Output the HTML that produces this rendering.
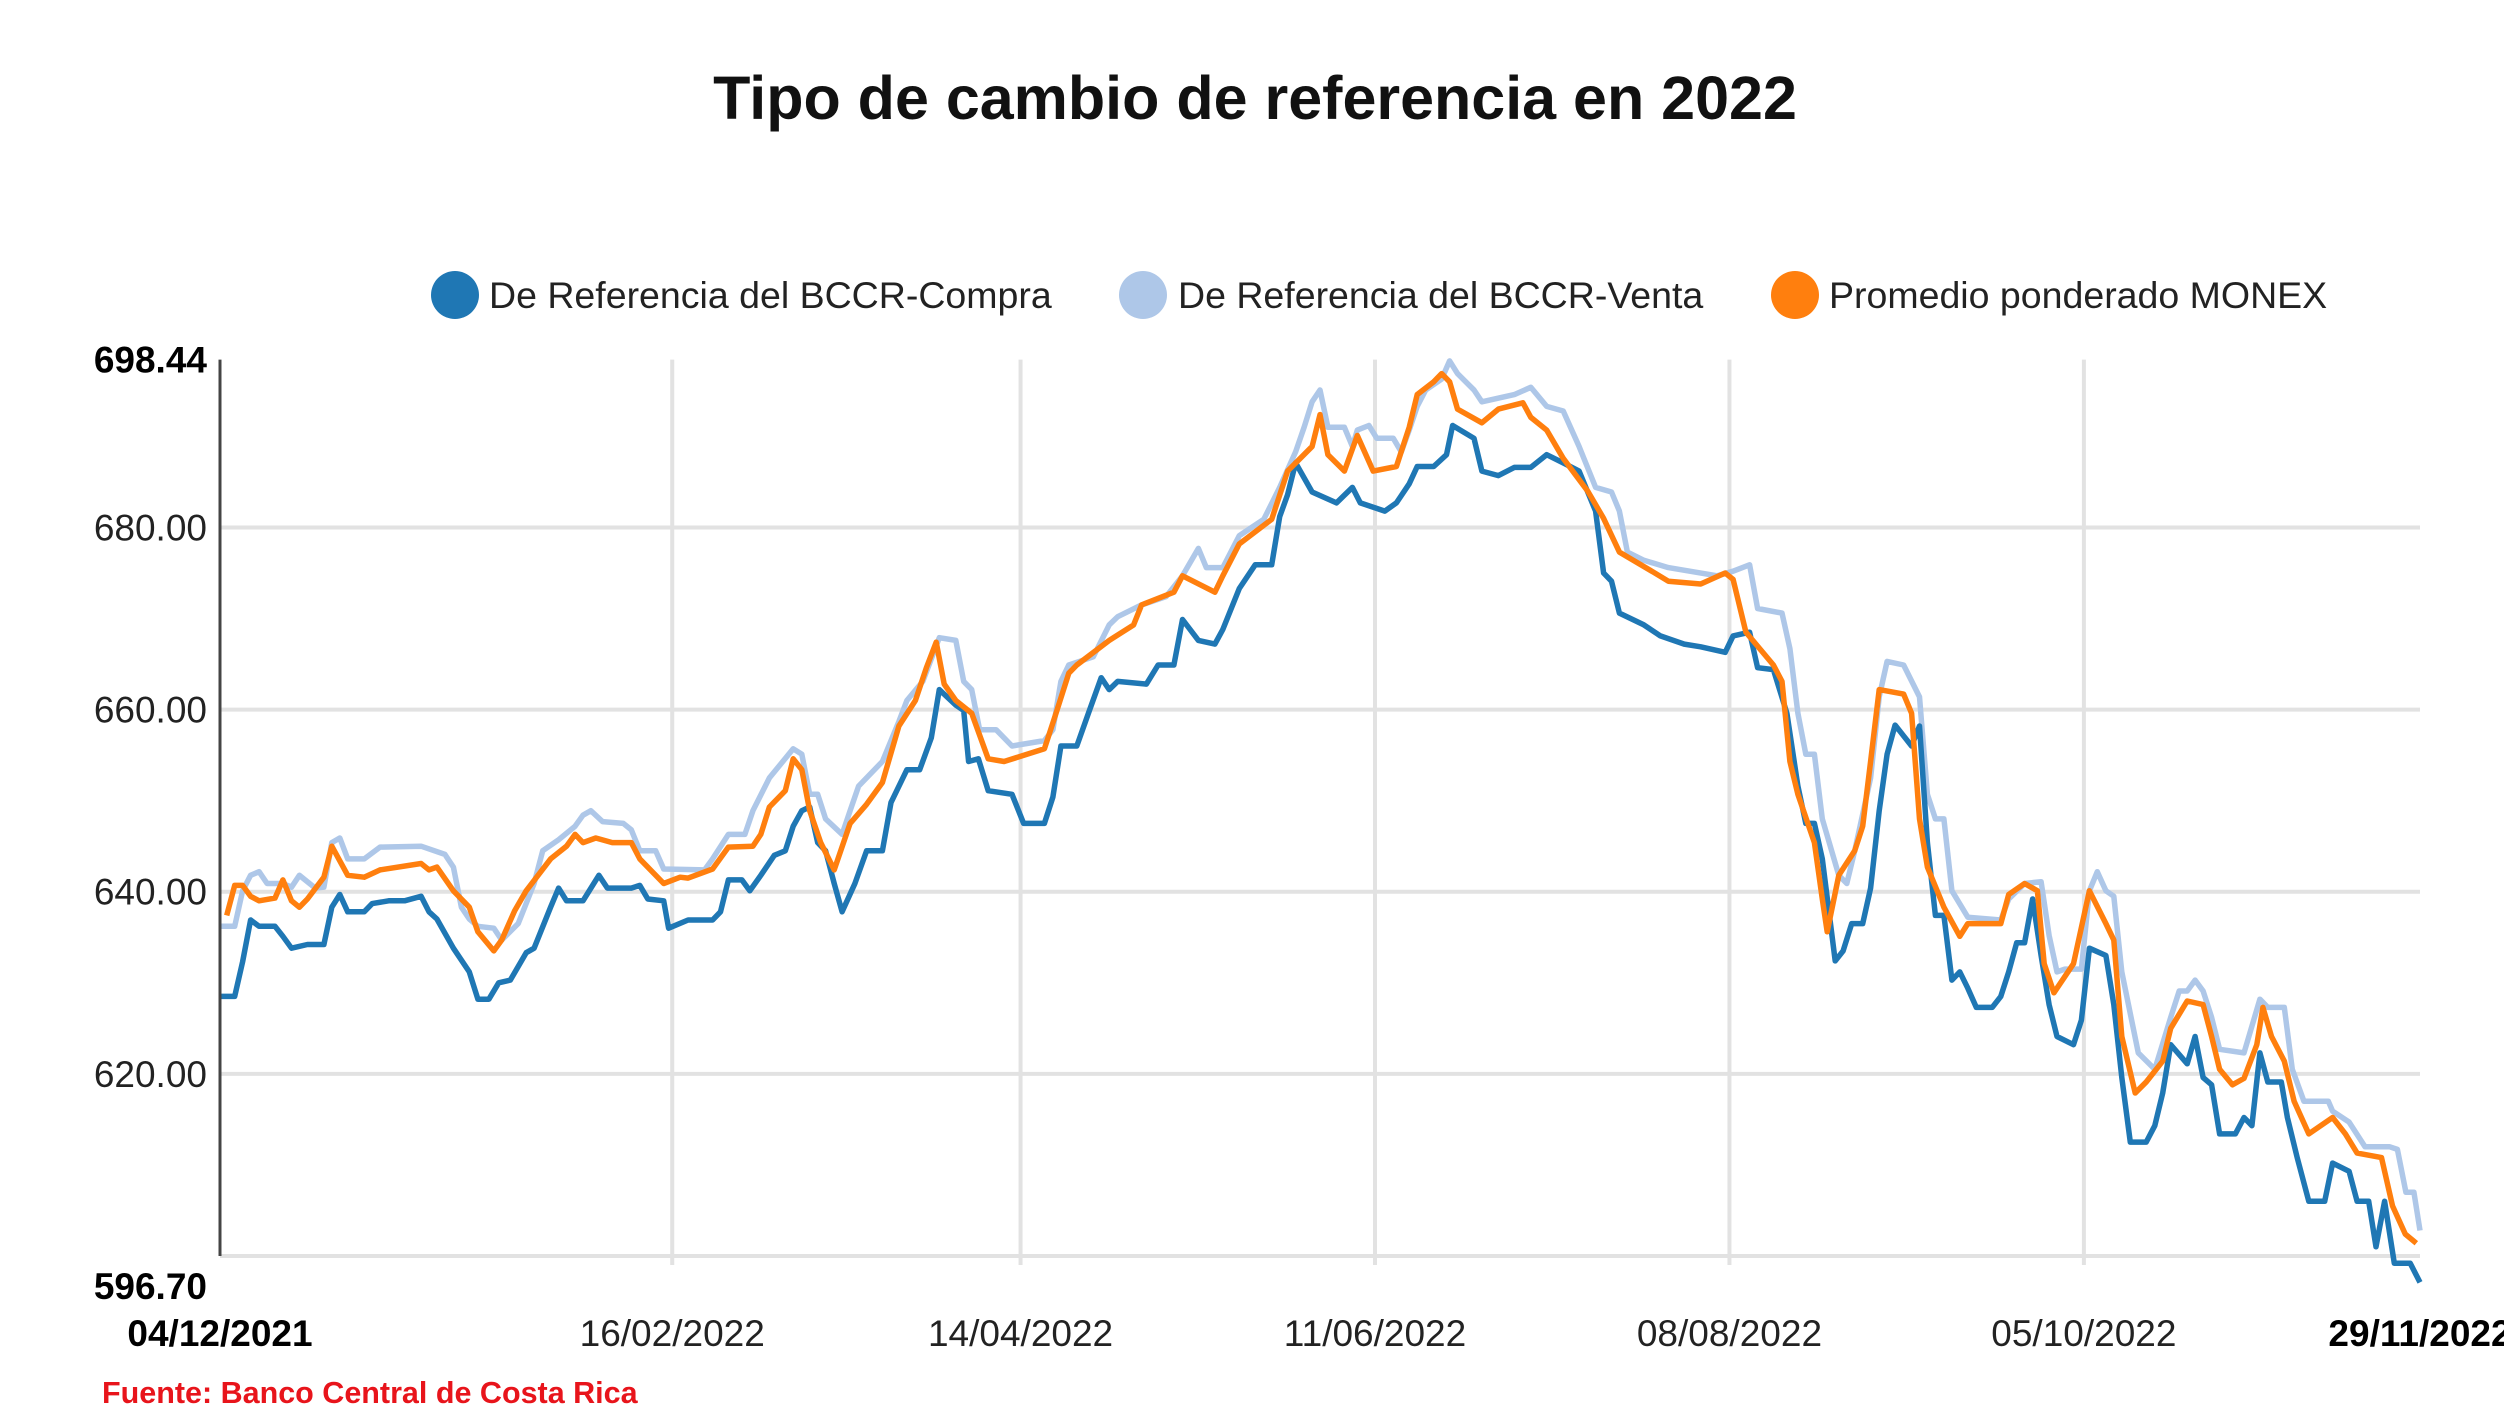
<!DOCTYPE html>
<html><head><meta charset="utf-8">
<style>
html,body{margin:0;padding:0;background:#fff;}
svg{display:block;font-family:"Liberation Sans",Arial,sans-serif;}
</style></head>
<body>
<svg id="chart" width="2504" height="1410" viewBox="0 0 2504 1410" xmlns="http://www.w3.org/2000/svg">
<text x="1255" y="119" text-anchor="middle" font-size="61" font-weight="bold" fill="#111">Tipo de cambio de referencia en 2022</text>
<g>
<g><circle cx="455" cy="295" r="24" fill="#1f77b4"/><text x="489" y="308" font-size="37.5" fill="#222">De Referencia del BCCR-Compra</text></g>
<g><circle cx="1143" cy="295" r="24" fill="#aec7e8"/><text x="1178" y="308" font-size="37.5" fill="#222">De Referencia del BCCR-Venta</text></g>
<g><circle cx="1795" cy="295" r="24" fill="#ff7f0e"/><text x="1829" y="308" font-size="37.5" fill="#222">Promedio ponderado MONEX</text></g>
</g>
<g id="grid"></g>
<g id="series"></g>
<g id="axes"></g>
<text x="102" y="1403" font-size="30.5" font-weight="bold" fill="#e8141b">Fuente: Banco Central de Costa Rica</text>
</svg>
<script>
// days since 04/12/2021
const compraDays=[0,2.4,3.7,5,6.4,9,10.3,11.7,14.3,17,18.3,19.6,20.9,23.6,24.9,27.6,30.2,32.9,34.2,35.5,38.2,40.8,42.2,44,45.6,47.5,50.1,51.4,54.1,55.4,56.7,59.4,62,63.4,67.3,68.7,70,72.6,73.4,76.6,80.6,81.9,83.2,85.4,86.7,88.5,90.7,92.5,93.8,95.2,96.5,97.8,99.1,100.5,101.8,103.9,105.8,108.4,109.8,112.4,114.5,116.4,117.7,120.4,121.7,122.5,124.1,125.7,129.6,131.5,134.9,136.3,137.6,140.2,142.1,144.2,145.5,146.9,151.6,153.5,156.1,157.5,160.1,162.8,164.1,166.8,169.4,172.1,173.4,174.7,176,178.7,182.7,185.3,186.6,190.6,192.5,194.6,195.9,198.6,200.7,201.7,205.2,206.5,209.2,211.8,214.5,217.1,219.8,222.4,225.1,226.4,227.7,229,233,235.7,239.6,242.3,246.3,247.6,250.3,251.6,254.2,256.4,258.2,259.5,260.9,262.2,264.3,265.6,267,268.8,270.1,271.5,272.8,274.1,276.8,278.1,279.4,280.7,282.1,283.4,284.7,286,287.4,290,291.4,292.7,294,295.3,296.6,298,299.3,300.6,303.3,304.6,305.9,308.6,309.9,311.2,312.6,315.2,316.6,317.9,319.2,321.9,323.2,324.5,325.9,327.2,329.8,331.2,332.5,333.8,335.1,337.3,338.3,339.9,341.8,344.4,345.7,348.4,349.7,351.6,352.8,354.2,355.8,358.4,360];
const compraValues=[628.5,628.5,632.3,636.9,636.2,636.2,635.1,633.8,634.2,634.2,638.3,639.7,637.8,637.8,638.7,639.0,639.0,639.5,637.8,637.0,633.8,631.2,628.2,628.2,630.0,630.3,633.3,633.8,638.3,640.4,639.0,639.0,641.8,640.4,640.4,640.7,639.2,639.0,636.0,636.9,636.9,637.8,641.3,641.3,640.1,641.8,644.0,644.5,647.2,648.9,649.3,645.4,644.5,640.9,637.8,640.9,644.5,644.5,649.8,653.4,653.4,656.9,662.2,660.5,659.9,654.3,654.6,651.1,650.7,647.5,647.5,650.4,656.0,656.0,659.6,663.5,662.2,663.1,662.8,664.9,664.9,669.9,667.6,667.2,668.8,673.3,675.9,675.9,681.2,683.6,687.1,683.9,682.7,684.4,682.7,681.8,682.7,684.8,686.7,686.7,688.0,691.2,689.8,686.2,685.7,686.6,686.6,688.0,687.1,686.2,681.8,675.0,674.1,670.6,669.3,668.1,667.2,666.9,666.3,668.1,668.5,664.6,664.4,659.6,651.6,647.5,647.5,643.6,632.4,633.5,636.5,636.5,640.4,648.9,655.1,658.3,656.0,658.2,645.4,637.4,637.4,630.3,631.2,629.4,627.3,627.3,628.5,631.2,634.4,634.4,639.2,633.0,627.6,624.1,623.2,625.9,633.8,633.0,627.6,619.6,612.5,612.5,614.3,617.9,623.2,621.1,624.1,619.6,618.8,613.4,613.4,615.2,614.3,622.3,619.1,619.1,615.2,610.8,606.0,606.0,610.2,609.3,606.0,606.0,601.0,606.0,599.2,599.2,597.1];
const ventaDays=[0,2.4,3.7,5,6.4,7.7,10.3,11.7,13,15.6,17,18.3,19.6,20.9,23.6,26.2,32.9,36.8,38.2,39.5,40.8,42.2,44.8,46.1,48.8,51.4,52.8,55.4,58.1,59.4,60.7,62.6,66,67.3,68.7,71.3,72.6,79.3,80.6,83.2,85.9,87.2,89.9,93.8,95.2,96.5,97.8,99.1,101.8,103.1,104.5,108.4,111.1,112.4,115,117.7,120.4,121.7,123,124.3,127,129.6,134.9,136.3,137.6,138.9,142.9,145.5,146.9,150.8,154.8,157.5,160.1,161.4,164.1,166.8,170.8,173.4,176,177.4,178.7,180,181.3,184,185.3,186.1,188,189.3,192,193.3,194.6,195.9,197.3,199.9,201.2,202.5,205.2,206.5,211.8,214.5,217.1,219.8,222.4,225.1,227.7,229,230.3,233,237,245,247.6,250.3,251.6,255.6,256.9,258.2,259.5,260.9,262.2,264.9,266.2,267.5,270.1,271.5,272.8,275.5,278.1,279.4,280.7,282.1,283.4,286,291.4,292.7,295.3,298,299.3,300.6,301.9,304.6,305.9,307.2,308.6,309.9,311.2,313.9,316.6,319.2,320.6,321.9,323.2,324.5,325.9,327.2,331.2,333.8,335.1,337.8,339.1,341,345,345.7,348.4,351,355,356.3,357.7,359,360];
const ventaValues=[636.2,636.2,640.1,641.8,642.2,640.9,640.9,640.5,641.8,640.4,640.5,645.4,645.9,643.6,643.6,644.9,645.0,644.1,642.7,638.3,637.0,636.2,636.0,634.7,636.5,640.9,644.5,645.7,647.2,648.4,648.9,647.7,647.5,646.8,644.5,644.5,642.5,642.4,643.6,646.3,646.3,648.9,652.5,655.7,655.1,650.7,650.7,648.0,646.3,648.9,651.6,654.3,658.7,661.0,663.1,667.9,667.6,663.1,662.2,657.8,657.8,656.0,656.6,657.8,663.1,664.9,665.8,669.3,670.2,671.5,672.4,674.7,677.7,675.6,675.6,679.1,680.9,684.4,688.3,691.0,693.8,695.1,691.0,691.0,688.9,690.7,691.2,689.8,689.8,688.3,690.7,693.3,695.1,696.3,698.3,696.9,695.1,693.8,694.6,695.4,693.3,692.8,688.9,684.4,683.9,681.8,677.3,676.4,675.6,674.7,675.2,675.9,671.1,670.6,666.7,659.6,655.1,655.1,648.0,641.8,640.9,644.5,652.5,661.4,665.3,664.9,661.4,650.7,648.0,648.0,640.1,637.2,636.9,639.2,640.9,641.1,635.2,631.2,631.5,631.5,640.1,642.2,640.1,639.5,631.2,622.3,620.5,626.2,629.1,629.1,630.3,629.1,626.2,622.7,622.3,628.2,627.3,627.3,620.5,617.0,617.0,615.9,614.7,612.0,612.0,611.7,607.0,607.0,602.8];
const monexDays=[1.1,2.4,3.7,5,6.4,9,10.3,11.7,13,14.3,17,18.3,20.9,23.6,26.2,32.9,34.2,35.5,38.2,40.8,42.2,44.8,46.1,48.2,50.1,54.1,56.7,58.1,59.4,61.5,64.2,67.3,68.7,72.6,75.3,76.6,80.6,83.2,87.2,88.5,89.9,92.5,93.8,95.2,96.5,98.3,100.5,103.1,105.8,108.4,111.1,113.8,115.6,117.2,118.5,120.4,123,125.7,128.3,134.9,136.8,138.9,140.2,145.5,149.5,150.8,156.1,157.5,162.8,164.1,166.8,172.1,174.7,178.7,180,181.3,184,186.1,188.7,192.5,194.6,195.9,198.6,199.9,201.2,202.5,206.5,209.2,213.2,214.5,217.1,219.8,223.8,226.4,229,234.3,237,242.3,246.3,247.6,249.7,254.2,255.6,256.9,258.2,260.9,262.2,263,264.9,267.5,268.8,270.1,271.5,275.5,276.8,278.1,279.4,282.1,284.7,286,291.4,292.7,295.3,297.4,298.5,300.1,303.3,305.9,308.6,309.9,311.2,313.4,315.2,317.9,319.2,321.9,324.5,325.9,327.2,329.3,331.2,333.3,334.3,335.7,337.8,339.4,341.8,345.7,347.8,349.7,353.7,355.5,357.6,359.4];
const monexValues=[637.4,640.7,640.7,639.5,639.0,639.3,641.3,639.0,638.3,639.2,641.6,645.0,641.8,641.6,642.4,643.1,642.4,642.7,640.1,638.3,635.6,633.5,634.7,637.9,640.1,643.6,645.0,646.3,645.4,645.9,645.4,645.4,643.6,640.9,641.6,641.5,642.5,644.9,645.0,646.3,649.3,651.1,654.6,653.4,648.9,645.4,642.4,647.5,649.6,652.0,658.2,661.0,664.6,667.4,662.8,661.0,659.6,654.6,654.3,655.7,659.6,664.0,664.9,667.6,669.3,671.5,672.9,674.7,672.9,674.7,678.2,680.9,686.2,688.9,692.4,688.0,686.2,690.1,686.2,686.7,691.0,694.6,696.0,696.9,696.0,693.0,691.5,693.0,693.7,692.1,690.7,687.6,684.0,681.0,677.3,675.2,674.1,673.8,675.0,674.3,668.5,664.9,663.1,654.3,650.7,645.4,639.2,635.6,641.8,644.5,647.2,654.3,662.2,661.7,659.6,648.0,642.7,638.3,635.1,636.5,636.5,639.7,640.9,640.1,632.1,628.9,632.1,640.1,636.5,634.7,624.1,617.9,619.1,621.4,625.0,628.0,627.6,624.1,620.5,618.8,619.5,623.2,627.3,624.1,621.4,617.0,613.4,615.2,613.4,611.3,610.8,605.5,602.4,601.4];
const gridValues=[600,620,640,660,680];
const yTickLabels=["698.44","680.00","660.00","640.00","620.00","596.70"];
const yTickValues=[698.44,680,660,640,620,596.70];
const xTickDays=[0,74,131,189,247,305,360];
const xTickLabels=["04/12/2021","16/02/2022","14/04/2022","11/06/2022","08/08/2022","05/10/2022","29/11/2022"];

const NS="http://www.w3.org/2000/svg";
const X0=220,X1=2420,YT=359.6,YB=1286;
const DMIN=0,DMAX=360,VMIN=596.70,VMAX=698.44;
function xs(d){return X0+(d-DMIN)/(DMAX-DMIN)*(X1-X0);}
function ys(v){return YT+(VMAX-v)/(VMAX-VMIN)*(YB-YT);}
function mk(tag,attrs,parent){const e=document.createElementNS(NS,tag);for(const k in attrs)e.setAttribute(k,attrs[k]);parent.appendChild(e);return e;}
const grid=document.getElementById('grid'),axes=document.getElementById('axes'),series=document.getElementById('series');
gridValues.forEach(v=>{const l=mk('line',{x1:X0,x2:X1,y1:ys(v),y2:ys(v),stroke:'#e2e2e2','stroke-width':4},grid);

});
xTickDays.slice(1,6).forEach(d=>{const l=mk('line',{x1:xs(d),x2:xs(d),y1:YT,y2:ys(599),stroke:'#e2e2e2','stroke-width':4},grid);

});
const ax=mk('line',{x1:X0,x2:X0,y1:YT,y2:ys(600),stroke:'#444','stroke-width':3},axes);


yTickValues.forEach((v,i)=>{const bold=(i===0||i===yTickValues.length-1);
const t=mk('text',{x:207,y:ys(v)+13,'text-anchor':'end','font-size':37,'font-weight':bold?'bold':'normal',fill:bold?'#000':'#222'},axes);
t.textContent=yTickLabels[i];

});
xTickDays.forEach((d,i)=>{const bold=(i===0||i===xTickDays.length-1);
const t=mk('text',{x:xs(d),y:1346,'text-anchor':'middle','font-size':37,'font-weight':bold?'bold':'normal',fill:bold?'#000':'#222'},axes);
t.textContent=xTickLabels[i];

});
function drawLine(days,vals,color,name){
 const d=days.map((dd,i)=>(i?'L':'M')+xs(dd).toFixed(1)+','+ys(vals[i]).toFixed(1)).join('');
 const p=mk('path',{d:d,fill:'none',stroke:color,'stroke-width':5.5,'stroke-linejoin':'round'},series);
 
 
}
drawLine(ventaDays,ventaValues,'#aec7e8','line-bccr-venta');
drawLine(compraDays,compraValues,'#1f77b4','line-bccr-compra');
drawLine(monexDays,monexValues,'#ff7f0e','line-monex');
</script>
</body></html>
